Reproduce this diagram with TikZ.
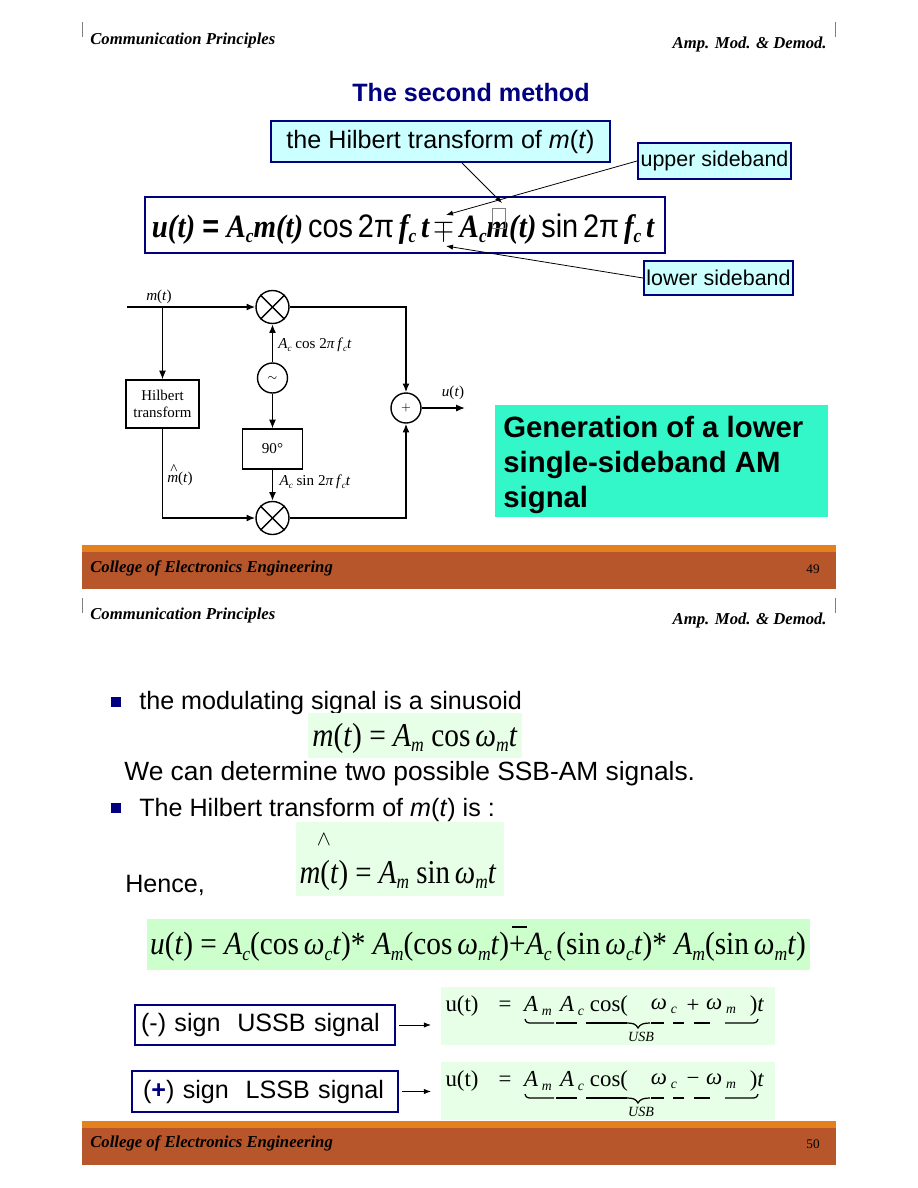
\documentclass[tikz,border=0pt]{standalone}
\usepackage{fontspec}
\usetikzlibrary{arrows.meta}
\setmainfont{Liberation Sans}
\newfontfamily\eqfont{Liberation Serif}
\definecolor{boxnavy}{HTML}{000080}
\definecolor{boxcyan}{HTML}{CCFFFF}
\definecolor{palegreen}{HTML}{E6FFE6}
\definecolor{eqgreen}{HTML}{CCFFCC}
\definecolor{noteteal}{HTML}{33F7C8}
\definecolor{bandorange}{HTML}{E5801E}
\definecolor{bandbrown}{HTML}{B8562B}
\newcommand{\sbs}[1]{\raisebox{-.38ex}{\scalebox{.6}{\itshape #1}}}
\newcommand{\iv}[1]{\textit{#1}}
\newcommand{\dropped}[1]{\raisebox{-1pt}{#1}}
\tikzset{
  headtext/.style={font=\eqfont\bfseries\itshape\fontsize{9.5}{11}\selectfont,inner sep=0},
  navybox/.style={draw=boxnavy,line width=1.2pt,inner sep=0},
  slidetext/.style={font=\fontsize{14.3}{17}\selectfont,inner sep=0,anchor=west},
  eqtext/.style={font=\eqfont\fontsize{19}{22}\selectfont,inner sep=0},
  greenbox/.style={fill=palegreen,inner sep=0},
  sig/.style={line width=.85pt,-{Latex[length=5pt,width=4pt]}},
  thin sig/.style={line width=.45pt,-{Latex[length=4pt,width=3pt]}},
  mixer/.style={draw,circle,line width=.8pt,minimum size=.66cm,inner sep=0},
  adder/.style={draw,circle,line width=.8pt,minimum size=.6cm,inner sep=0,font=\fontsize{6.5}{7}\selectfont},
  blocklabel/.style={font=\eqfont\fontsize{8.6}{10}\selectfont,inner sep=0},
  ssbtext/.style={font=\eqfont\fontsize{13}{14}\selectfont,inner sep=0}
}
\begin{document}
\begin{tikzpicture}[x=0.02cm,y=-0.02cm]
  \useasboundingbox (0,0) rectangle (918,1188);
  \fill[white] (0,0) rectangle (918,1188);

  % page frames
  \foreach \top/\num/\pg in {0/49/a,575.5/50/b}{
    \draw[gray,line width=.5pt] (82,22+\top) -- (82,37+\top);
    \draw[gray,line width=.5pt] (835,22+\top) -- (835,37+\top);
    \node[headtext,anchor=west] (course\pg) at (90,40+\top) {Communication Principles};
    \node[headtext,anchor=east] (chapter\pg) at (827,44.5+\top) {Amp. Mod. \& Demod.};
    \fill[bandorange] (82,545+\top) rectangle (836,552+\top);
    \fill[bandbrown] (82,552+\top) rectangle (836,589+\top);
    \node[headtext,anchor=west] (college\pg) at (90,568+\top) {College of Electronics Engineering};
    \node[font=\eqfont\fontsize{7.5}{9}\selectfont,inner sep=0] (num\pg) at (813,569+\top) {\num};
  }

  % first page
  \node[font=\bfseries\fontsize{14.3}{17}\selectfont,text=boxnavy,inner sep=0] (title) at (471,93) {The second method};
  \node[navybox,fill=boxcyan,minimum width=6.78cm,minimum height=.82cm,font=\fontsize{14.3}{17}\selectfont] (hilbnote) at (440.5,141.5) {\dropped{the Hilbert transform of \textit{m}(\textit{t})}};
  \node[navybox,fill=boxcyan,minimum width=3.06cm,minimum height=.72cm,font=\fontsize{12.2}{14}\selectfont] (upper) at (714.5,161) {\dropped{upper sideband}};
  \node[navybox,fill=boxcyan,minimum width=2.98cm,minimum height=.68cm,font=\fontsize{12.2}{14}\selectfont] (lower) at (718.5,278) {\dropped{lower sideband}};
  \node[navybox,fill=white,minimum width=10.4cm,minimum height=1.12cm] (sumbox) at (405,225) {};
  \node[eqtext,font=\eqfont\bfseries\itshape\fontsize{18.5}{22}\selectfont] (sumeq) at (403,229) {\scalebox{.89}[1]{u(t) {\normalfont\bfseries=} A\sbs{c}m(t){\normalfont\,cos\,2π\,}f\sbs{c}\,t\,$\mp$\,A\sbs{c}m(t){\normalfont\,sin\,2π\,}f\sbs{c}\,t}};
  \draw[gray,line width=.3pt] (492,208) rectangle (505,228);
  \coordinate (hatm) at (502,203);
  \coordinate (minus) at (446,215);
  \coordinate (plussign) at (446,246);
  \draw[thin sig] (hilbnote) -- (hatm);
  \draw[thin sig] (upper.west) -- (minus);
  \draw[thin sig] (lower.west) -- (plussign);

  % modulator
  \coordinate (in) at (127,307);
  \coordinate (tap) at (162.5,307);
  \coordinate (out) at (465,408);
  \node[mixer] (mixa) at (272.5,307) {};
  \node[mixer] (mixb) at (272.5,518) {};
  \node[adder] (sum) at (406,408) {$+$};
  \node[adder] (osc) at (272.5,378) {$\sim$};
  \node[draw,line width=.6pt,minimum width=1.46cm,minimum height=.96cm,align=center,blocklabel,font=\eqfont\fontsize{8.5}{10}\selectfont] (hil) at (162.5,404) {Hilbert\\transform};
  \node[draw,line width=.6pt,minimum width=1.2cm,minimum height=.8cm,blocklabel] (ninety) at (272.5,449) {90°};
  \foreach \mx in {mixa,mixb}{
    \draw[line width=.8pt] (\mx.45) -- (\mx.225);
    \draw[line width=.8pt] (\mx.135) -- (\mx.-45);
  }
  \draw[sig] (in) -- (mixa);
  \draw[sig] (tap) -- (hil);
  \draw[sig] (hil) |- (mixb);
  \draw[sig] (mixa) -| (sum);
  \draw[sig] (mixb) -| (sum);
  \draw[sig] (sum) -- (out);
  \draw[sig] (osc) -- (mixa);
  \draw[sig] (osc) -- (ninety);
  \draw[sig] (ninety) -- (mixb);
  \node[blocklabel] (mlabel) at (159,297) {\iv{m}(\iv{t})};
  \node[blocklabel] (ulabel) at (453,393) {\iv{u}(\iv{t})};
  \node[blocklabel] (mhat) at (180,475) {\rlap{\kern.2em\raisebox{.55em}{\^{}}}\iv{m}(\iv{t})};
  \node[blocklabel] (coslabel) at (315,345) {\iv{A}\sbs{c} cos 2\iv{π}\,\iv{f}\sbs{c}\iv{t}};
  \node[blocklabel] (sinlabel) at (315,482) {\iv{A}\sbs{c} sin 2\iv{π}\,\iv{f}\sbs{c}\iv{t}};
  \node[fill=noteteal,minimum width=6.66cm,minimum height=2.24cm,inner sep=0] (notebox) at (661.5,461) {};
  \node[font=\bfseries\fontsize{16.7}{20}\selectfont,align=left,anchor=west,inner sep=0] (note) at (503,465) {Generation of a lower\\single-sideband AM\\signal};

  % second page
  \foreach \by/\nm in {702/bula,808/bulb}
    \fill[boxnavy] (111,\by-5) rectangle (121,\by+5);
  \node[slidetext] (sinusoid) at (139,703) {the modulating signal is a sinusoid};
  \node[greenbox,minimum width=4.28cm,minimum height=.9cm] (mbox) at (415,735.5) {};
  \node[eqtext] (meq) at (415,738) {\scalebox{.88}[1]{\iv{m}(\iv{t}) = \iv{A}\sbs{m} cos\,\iv{ω}\sbs{m}\iv{t}}};
  \node[slidetext,font=\fontsize{15}{18}\selectfont] (two) at (124,774) {We can determine two possible SSB-AM signals.};
  \node[slidetext] (hilline) at (139,810) {The Hilbert transform of \textit{m}(\textit{t}) is :};
  \node[greenbox,minimum width=4.16cm,minimum height=1.48cm] (hatbox) at (400,859) {};
  \node[font=\fontsize{12}{14}\selectfont,inner sep=0] (caret) at (324,840) {$\wedge$};
  \node[eqtext] (hateq) at (398,875) {\scalebox{.865}[1]{\iv{m}(\iv{t}) = \iv{A}\sbs{m} sin\,\iv{ω}\sbs{m}\iv{t}}};
  \node[slidetext] (hence) at (125,885) {Hence,};
  \node[fill=eqgreen,minimum width=13.26cm,minimum height=1.02cm,inner sep=0] (fullbox) at (478.5,944.5) {};
  \node[eqtext,font=\eqfont\fontsize{18.4}{22}\selectfont] (fulleq) at (478,947) {\scalebox{.907}[1]{\iv{u}(\iv{t}) = \iv{A}\sbs{c}(cos\,\iv{ω}\sbs{c}\iv{t})* \iv{A}\sbs{m}(cos\,\iv{ω}\sbs{m}\iv{t})+\iv{A}\sbs{c}\,(sin\,\iv{ω}\sbs{c}\iv{t})* \iv{A}\sbs{m}(sin\,\iv{ω}\sbs{m}\iv{t})}};
  \draw[line width=.8pt] (512,927) -- (527,927);

  % sideband results
  \node[navybox,fill=white,minimum width=5.2cm,minimum height=.8cm,slidetext,anchor=center,text width=4.96cm,align=left] (usb) at (265,1025) {\dropped{(-) sign\ \ USSB signal}};
  \node[navybox,fill=white,minimum width=5.32cm,minimum height=.82cm,slidetext,anchor=center,text width=4.88cm,align=left] (lsb) at (265,1091.5) {\dropped{(\textcolor{boxnavy}{\textbf{+}}) sign\ \ LSSB signal}};
  \foreach \dy/\op/\src/\rs/\ay in {0/+/usb/a/1025,75/−/lsb/b/1091.5}{
    \node[greenbox,minimum width=6.68cm,minimum height=1.16cm] (res\rs) at (608,1016+\dy) {};
    \coordinate (end\rs) at (431,\ay);
    \draw[thin sig] (\src.east) ++(3,0) -- (end\rs);
    \node[ssbtext] (ut\rs) at (462,1006+\dy) {u(t)};
    \node[ssbtext] (eq\rs) at (505,1006+\dy) {=};
    \node[ssbtext] (am\rs) at (538,1006+\dy) {\iv{A}\,\sbs{m}};
    \node[ssbtext] (ac\rs) at (572,1006+\dy) {\iv{A}\,\sbs{c}};
    \node[ssbtext] (cs\rs) at (609,1006+\dy) {cos(};
    \node[ssbtext] (wc\rs) at (664,1006+\dy) {\iv{ω}\,\sbs{c}};
    \node[ssbtext] (op\rs) at (693,1006+\dy) {\op};
    \node[ssbtext] (wm\rs) at (721,1006+\dy) {\iv{ω}\,\sbs{m}};
    \node[ssbtext] (pt\rs) at (757,1006+\dy) {)\iv{t}};
    \node[blocklabel,font=\eqfont\itshape\fontsize{8}{9}\selectfont] (usb\rs) at (641,1037+\dy) {USB};
    \foreach \xa/\xb in {556/577,586/627,651/664,673/684,694/710}
      \draw[line width=.7pt] (\xa,1023+\dy) -- (\xb,1023+\dy);
    \draw[line width=.7pt] (525,1019+\dy) .. controls (526,1023+\dy) and (528,1023+\dy) .. (532,1023+\dy) -- (554,1023+\dy);
    \draw[line width=.7pt] (725,1023+\dy) -- (751,1023+\dy) .. controls (755,1023+\dy) and (757,1023+\dy) .. (758,1019+\dy);
    \draw[line width=.7pt] (627,1023+\dy) .. controls (633,1023+\dy) and (636,1024+\dy) .. (638,1028+\dy) .. controls (640,1024+\dy) and (644,1023+\dy) .. (650,1023+\dy);
  }
\end{tikzpicture}
\end{document}
